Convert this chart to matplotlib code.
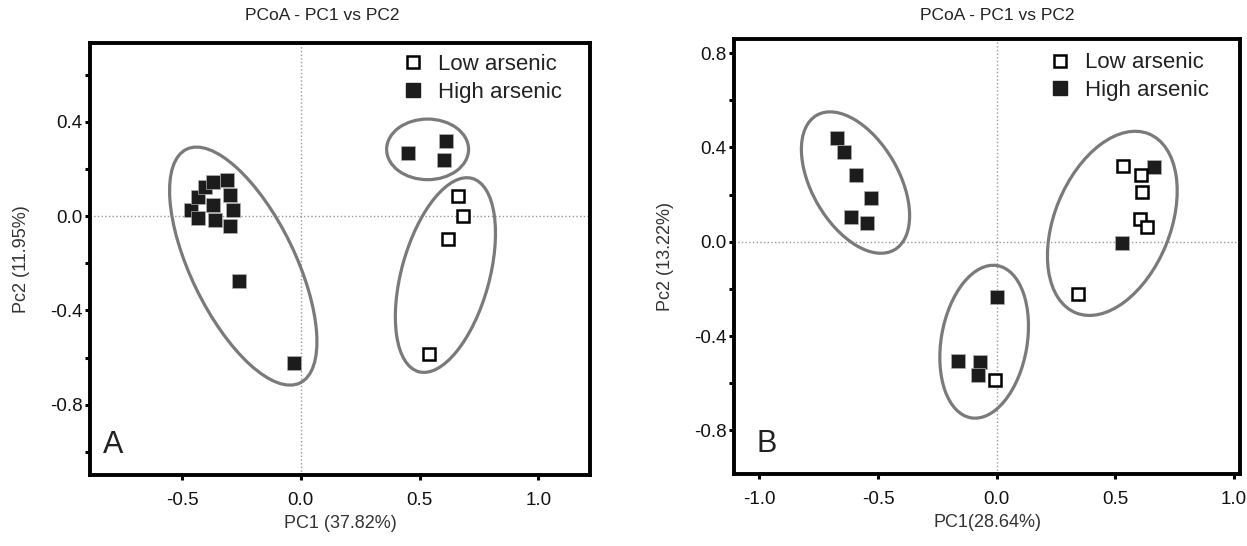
import matplotlib.pyplot as plt
from matplotlib.patches import Ellipse
from matplotlib.lines import Line2D
from matplotlib.ticker import MultipleLocator

plt.rcParams['font.family'] = ['Liberation Sans', 'DejaVu Sans']

# Panel A: PC1 (37.82%) vs Pc2 (11.95%)
a_high_x = [-0.462, -0.432, -0.403, -0.369, -0.310, -0.298, -0.285, -0.369, -0.432, -0.361, -0.298,
            -0.259, -0.027, 0.450, 0.611, 0.605]
a_high_y = [0.025, 0.081, 0.123, 0.144, 0.153, 0.089, 0.025, 0.047, -0.008, -0.017, -0.042,
            -0.274, -0.625, 0.268, 0.318, 0.237]
a_low_x = [0.664, 0.682, 0.622, 0.540]
a_low_y = [0.085, 0.000, -0.098, -0.585]
# ellipses: (center x, center y, width, height, angle)
a_ellipses = [(-0.242, -0.212, 1.10, 0.44, -64.3),
              (0.534, 0.283, 0.345, 0.257, 0),
              (0.609, -0.250, 0.85, 0.37, 74.7)]

# Panel B: PC1 (28.64%) vs Pc2 (13.22%)
b_high_x = [-0.672, -0.643, -0.593, -0.531, -0.615, -0.548, 0.000, -0.164, -0.070, -0.077, 0.663, 0.529]
b_high_y = [0.439, 0.379, 0.282, 0.187, 0.106, 0.081, -0.233, -0.505, -0.509, -0.565, 0.318, -0.007]
b_low_x = [-0.007, 0.534, 0.607, 0.612, 0.604, 0.632, 0.344]
b_low_y = [-0.587, 0.322, 0.283, 0.209, 0.095, 0.061, -0.222]
b_ellipses = [(-0.595, 0.251, 0.658, 0.367, 119.7),
              (-0.053, -0.424, 0.655, 0.362, 80.3),
              (0.487, 0.078, 0.819, 0.488, 68.0)]

fig = plt.figure(figsize=(12.47, 5.46), dpi=100)
ax_a = fig.add_axes([0.0722, 0.1300, 0.4010, 0.7912])
ax_b = fig.add_axes([0.5886, 0.1319, 0.4058, 0.7967])

panels = [
    (ax_a, a_high_x, a_high_y, a_low_x, a_low_y, a_ellipses, (-0.887, 1.218), (-1.098, 0.734),
     'PC1 (37.82%)', 'Pc2 (11.95%)', 'A', 245, 0.026, (0.624, 0.974)),
    (ax_b, b_high_x, b_high_y, b_low_x, b_low_y, b_ellipses, (-1.107, 1.025), (-0.985, 0.860),
     'PC1(28.64%)', 'Pc2 (13.22%)', 'B', 920, 0.045, (0.6225, 0.969)),
]

for ax, hx, hy, lx, ly, ells, xlim, ylim, xlab, ylab, letter, title_px, letter_x, leg_xy in panels:
    ax.axhline(0, color='#999999', linestyle=':', linewidth=1, zorder=1)
    ax.axvline(0, color='#999999', linestyle=':', linewidth=1, zorder=1)

    for cx, cy, w, h, ang in ells:
        ax.add_patch(Ellipse((cx, cy), w, h, angle=ang, fill=False,
                             edgecolor='#7a7a7a', linewidth=2.3, zorder=2))

    ax.plot(hx, hy, linestyle='none', marker='s', markersize=9.6, color='#1c1c1c',
            markeredgecolor='#b0b0b0', markeredgewidth=0.5, zorder=3)
    ax.plot(lx, ly, linestyle='none', marker='s', markersize=9.2, markerfacecolor='white',
            markeredgecolor='black', markeredgewidth=1.8, zorder=4)

    ax.set_xlim(*xlim)
    ax.set_ylim(*ylim)
    ax.xaxis.set_major_locator(MultipleLocator(0.5))
    ax.yaxis.set_major_locator(MultipleLocator(0.4))
    ax.yaxis.set_minor_locator(MultipleLocator(0.2))
    ax.xaxis.set_major_formatter(plt.FormatStrFormatter('%.1f'))
    ax.yaxis.set_major_formatter(plt.FormatStrFormatter('%.1f'))

    for s in ax.spines.values():
        s.set_linewidth(2.8)
    ax.tick_params(which='both', direction='out', length=3.5, width=2.2, labelsize=13.5,
                   labelcolor='#111111')
    ax.tick_params(axis='x', pad=9)
    ax.tick_params(axis='y', pad=2)

    ax.set_xlabel(xlab, fontsize=13, color='#333333', labelpad=4)
    ax.set_ylabel(ylab, fontsize=13, color='#333333', labelpad=14)
    fig.text(title_px / 1247, 0.972, 'PCoA - PC1 vs PC2', ha='left', va='center',
             fontsize=12.5, color='#222222')
    ax.text(letter_x, 0.035, letter, transform=ax.transAxes,
            fontsize=22, color='#222222', ha='left', va='bottom')

    handles = [Line2D([], [], linestyle='none', marker='s', markersize=9.2, markerfacecolor='white',
                      markeredgecolor='black', markeredgewidth=1.8),
               Line2D([], [], linestyle='none', marker='s', markersize=9.6, color='#1c1c1c')]
    ax.legend(handles, ['Low arsenic', 'High arsenic'], loc='upper left', bbox_to_anchor=leg_xy,
              frameon=False, fontsize=16, handlelength=1.0, handletextpad=0.6,
              labelspacing=0.3, borderaxespad=0, borderpad=0, labelcolor='#222222')

fig.savefig('out.png', dpi=100)
